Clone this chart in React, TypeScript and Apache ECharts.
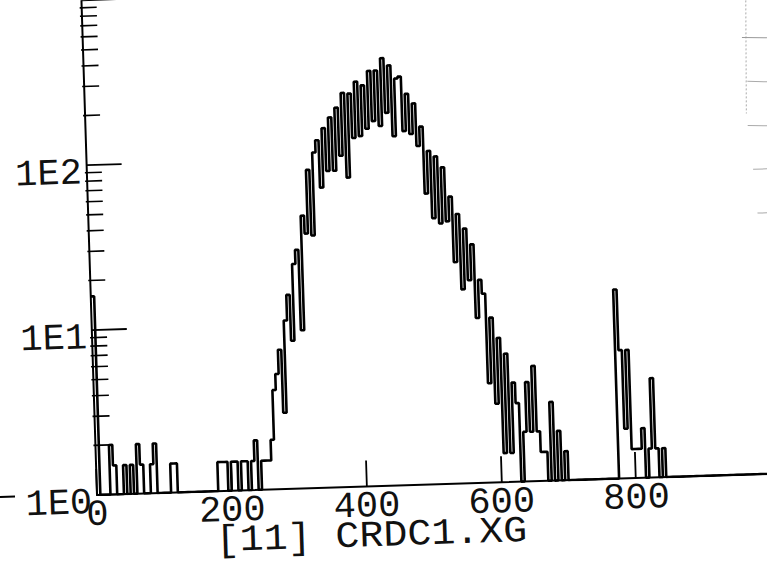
import React, { useEffect, useRef } from "react";
import * as echarts from "echarts";

// ---- data ----
const BIN_WIDTH = 5;
const X_MAX = 1000;
const X_INTERVAL = 200;
const Y_MIN = 1;
const Y_MAX = 1000;
const titleText = "[11] CRDC1.XG";

// counts per bin (bin i covers [5i, 5i+5)), empty bins = 0
const lowStart = 0;
const lowCounts = [
  16, 0, 0, 0, 2, 1.5, 0, 0, 1.5, 0,
  1.5, 0, 2, 1.5, 0, 0, 1.5, 2, 0, 0,
  0, 0, 1.5, 1.5, 0, 0, 0, 0, 0, 0,
  0, 0, 0, 0, 0, 0, 1.5, 1.5, 1.5, 0,
  1.5, 1.5, 0, 1.5, 1.5, 0, 1.5, 2, 0, 1.5,
  1.5, 1.5, 2,
];
const peakStart = 53;
const peakCounts = [
  4, 5, 7, 2.9, 10.5, 15, 7.9, 23, 28, 9.1,
  45, 35, 85, 34, 108, 128, 66, 151, 83, 175,
  83, 200, 102, 245, 75, 242, 130, 285, 133, 270,
  147, 329, 163, 330, 152, 391, 182, 352, 131, 292,
  300, 140, 235, 134, 205, 113, 148, 58, 105, 41,
  97, 38, 83, 39, 55, 22, 43, 15, 35, 17,
  28, 10, 17, 14, 4, 10, 3, 7.5, 1.5, 6,
  1.5, 4, 3, 0, 2, 4, 2, 5, 2, 1.5,
  1.5, 0, 3, 0, 2, 0, 1.5,
];
const farStart = 155;
const farCounts = [14, 6, 2, 6, 1.5, 1.5, 1.5, 2, 0, 1.5, 4, 1.5, 0, 1.5];

const minorMultipliers = [2, 3, 4, 5, 6, 7, 8, 9];
const minorDecades = [1, 10, 100];

const FONT = "'Liberation Mono', 'DejaVu Sans Mono', monospace";
const ROT_DEG = 1.8;

function buildCounts(): number[] {
  const n = X_MAX / BIN_WIDTH;
  const arr: number[] = new Array(n).fill(0);
  const put = (start: number, vals: number[]) =>
    vals.forEach((v, k) => {
      arr[start + k] = v;
    });
  put(lowStart, lowCounts);
  put(peakStart, peakCounts);
  put(farStart, farCounts);
  return arr;
}

export default function App() {
  const ref = useRef<HTMLDivElement>(null);

  useEffect(() => {
    if (!ref.current) return;
    const chart = echarts.init(ref.current, null, {
      renderer: "svg",
      width: 800,
      height: 600,
    });
    const counts = buildCounts();
    const lineData: number[][] = counts.map((c, i) => [i * BIN_WIDTH, Math.max(c, Y_MIN)]);
    lineData.push([X_MAX, Math.max(counts[counts.length - 1], Y_MIN)]);

    const minorData: number[][] = [];
    minorDecades.forEach((d) => minorMultipliers.forEach((m) => minorData.push([0, m * d])));

    const option: any = {
      animation: false,
      grid: { left: 97, top: 0, width: 674, height: 495 },
      xAxis: {
        type: "value",
        min: 0,
        max: X_MAX,
        interval: X_INTERVAL,
        splitLine: { show: false },
        axisLine: { show: true, onZero: false, lineStyle: { color: "#000", width: 2 } },
        axisTick: { show: true, inside: true, length: 26, lineStyle: { color: "#000", width: 1.8 } },
        axisLabel: {
          margin: 20,
          verticalAlign: "middle",
          fontSize: 37,
          fontFamily: FONT,
          color: "#111",
          formatter: (v: number) => (v >= X_MAX ? "" : String(v)),
        },
      },
      yAxis: {
        type: "log",
        logBase: 10,
        min: Y_MIN,
        max: Y_MAX,
        splitLine: { show: false },
        minorTick: { show: false },
        axisLine: { show: true, lineStyle: { color: "#000", width: 2 } },
        axisTick: { show: true, inside: true, length: 35, lineStyle: { color: "#000", width: 1.8 } },
        axisLabel: {
          margin: 5,
          verticalAlign: "top",
          lineHeight: 16,
          fontSize: 37,
          fontFamily: FONT,
          color: "#111",
          formatter: (v: number) => (v >= Y_MAX ? "" : "1E" + Math.round(Math.log10(v))),
        },
      },
      series: [
        {
          type: "line",
          data: lineData,
          step: "end",
          showSymbol: false,
          symbol: "none",
          clip: true,
          lineStyle: { color: "#000", width: 2.6 },
          z: 3,
        },
        {
          type: "custom",
          coordinateSystem: "cartesian2d",
          data: minorData,
          clip: false,
          silent: true,
          renderItem: (_params: any, api: any) => {
            const p = api.coord([api.value(0), api.value(1)]);
            return {
              type: "line",
              shape: { x1: p[0] - 2, y1: p[1], x2: p[0] + 15, y2: p[1] },
              style: { stroke: "#000", lineWidth: 1.6 },
            };
          },
          z: 4,
        },
      ],
      graphic: [
        {
          type: "line",
          shape: { x1: 0, y1: 494, x2: 15, y2: 494 },
          style: { stroke: "#000", lineWidth: 2 },
        },
        {
          type: "text",
          x: 370,
          y: 545,
          scaleX: 1.08,
          style: {
            text: titleText,
            fontSize: 37,
            fontFamily: FONT,
            fill: "#111",
            align: "center",
            verticalAlign: "middle",
            textAlign: "center",
            textVerticalAlign: "middle",
          },
        },
        // faint edge of an adjacent scanned plot
        {
          type: "line",
          shape: { x1: 761, y1: 21, x2: 758, y2: 134 },
          style: { stroke: "#aaa", lineWidth: 1, lineDash: [2, 2] },
        },
        { type: "line", shape: { x1: 756, y1: 58, x2: 781, y2: 59 }, style: { stroke: "#999", lineWidth: 1 } },
        { type: "line", shape: { x1: 760, y1: 102, x2: 780, y2: 103 }, style: { stroke: "#aaa", lineWidth: 1 } },
        { type: "line", shape: { x1: 759, y1: 146, x2: 779, y2: 147 }, style: { stroke: "#aaa", lineWidth: 1 } },
        { type: "line", shape: { x1: 763, y1: 190, x2: 777, y2: 190 }, style: { stroke: "#aaa", lineWidth: 1 } },
        { type: "line", shape: { x1: 766, y1: 234, x2: 776, y2: 234 }, style: { stroke: "#aaa", lineWidth: 1 } },
      ],
    };
    chart.setOption(option);
    return () => chart.dispose();
  }, []);

  return (
    <div
      style={{
        position: "fixed",
        left: 0,
        top: 0,
        width: 767,
        height: 562,
        overflow: "hidden",
        background: "#fff",
      }}
    >
      <div
        ref={ref}
        style={{
          position: "absolute",
          left: 0,
          top: 0,
          width: 800,
          height: 600,
          transform: `rotate(-${ROT_DEG}deg)`,
          transformOrigin: "97px 495px",
        }}
      />
    </div>
  );
}
